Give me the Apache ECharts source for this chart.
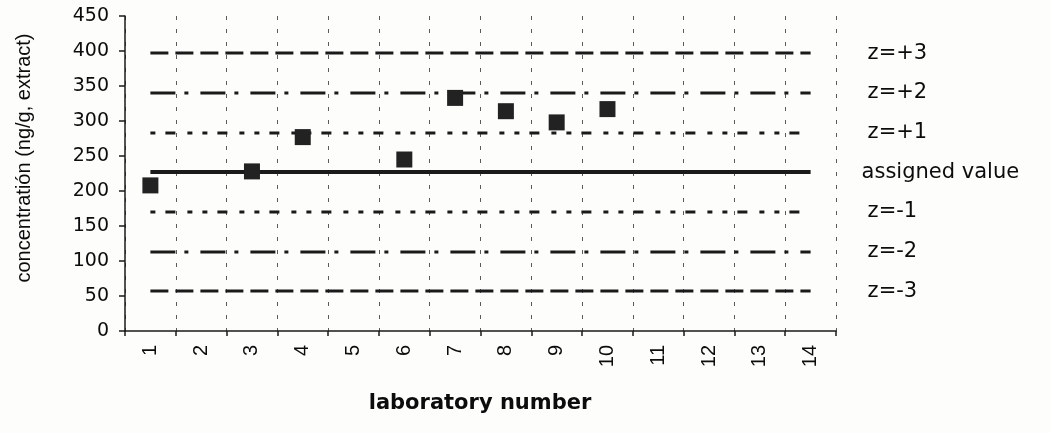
<!DOCTYPE html>
<html>
<head>
<meta charset="utf-8">
<script src="https://cdn.jsdelivr.net/npm/echarts@6/dist/echarts.min.js"></script>
<style>
  html, body { margin: 0; padding: 0; background: #fdfdfb; }
  #chart { width: 1050px; height: 433px; }
</style>
</head>
<body>
<div id="chart"></div>
<script>
// Laboratory numbers along the x axis
const labs = ['1', '2', '3', '4', '5', '6', '7', '8', '9', '10', '11', '12', '13', '14'];
// Reported concentration per laboratory (null = no result)
const concentrations = [208, null, 228, 277, null, 245, 333, 314, 298, 317, null, null, null, null];
// Reference levels: assigned value and z-score bands
const levelNames = ['z=+3', 'z=+2', 'z=+1', 'assigned value', 'z=-1', 'z=-2', 'z=-3'];
const levelValues = [397, 340, 283, 227, 170, 113, 57];
// y axis ticks
const yTicks = [0, 50, 100, 150, 200, 250, 300, 350, 400, 450];

const ink = '#1a1a1a';
const textInk = '#0c0c0c';
const dashStyles = {
  'z=+3': { type: [18, 7], width: 3 },
  'z=-3': { type: [18, 7], width: 3 },
  'z=+2': { type: [25, 9, 4, 12], width: 3 },
  'z=-2': { type: [25, 9, 4, 12], width: 3 },
  'z=+1': { type: [5, 10, 10, 12, 5, 10], width: 3 },
  'z=-1': { type: [5, 10, 10, 12, 5, 10], width: 3 },
  'assigned value': { type: 'solid', width: 4 }
};

const levelSeries = levelNames.map((name, i) => ({
  name: name,
  type: 'line',
  data: [[0, levelValues[i]], [labs.length - 1, levelValues[i]]],
  symbol: 'none',
  silent: true,
  z: 2,
  lineStyle: { color: ink, width: dashStyles[name].width, type: dashStyles[name].type, cap: 'butt' },
  endLabel: {
    show: true,
    formatter: name,
    distance: name === 'assigned value' ? 51 : 57,
    fontFamily: 'DejaVu Sans',
    fontSize: 21,
    color: textInk
  }
}));

const chart = echarts.init(document.getElementById('chart'), null, { renderer: 'canvas' });
chart.setOption({
  backgroundColor: '#fdfdfb',
  animation: false,
  grid: { left: 125, right: 214, top: 16, bottom: 102 },
  xAxis: {
    type: 'category',
    data: labs,
    boundaryGap: true,
    axisLine: { lineStyle: { color: ink, width: 1.5 } },
    axisTick: { show: true, length: 5, lineStyle: { color: ink, width: 1.5 } },
    axisLabel: {
      rotate: 90,
      margin: 14,
      fontFamily: 'Liberation Sans',
      fontSize: 20,
      color: textInk,
      interval: 0
    },
    splitLine: { show: true, interval: 0, lineStyle: { color: '#5a5a5a', width: 1, type: [4, 9] } }
  },
  yAxis: {
    type: 'value',
    min: yTicks[0],
    max: yTicks[yTicks.length - 1],
    interval: 50,
    axisLine: { show: true, lineStyle: { color: ink, width: 1.5 } },
    axisTick: { show: true, length: 6, lineStyle: { color: ink, width: 1.5 } },
    axisLabel: { margin: 16, fontFamily: 'DejaVu Sans', fontSize: 19, color: textInk },
    splitLine: { show: false }
  },
  graphic: [
    {
      type: 'text',
      x: 24,
      y: 158,
      rotation: Math.PI / 2,
      style: {
        text: 'concentratión (ng/g, extract)',
        fontFamily: 'Liberation Sans',
        fontSize: 20,
        fill: textInk,
        align: 'center',
        verticalAlign: 'middle'
      }
    },
    {
      type: 'text',
      x: 480,
      y: 404,
      style: {
        text: 'laboratory number',
        fontFamily: 'DejaVu Sans',
        fontWeight: 'bold',
        fontSize: 21,
        fill: textInk,
        align: 'center',
        verticalAlign: 'middle'
      }
    }
  ],
  series: levelSeries.concat([{
    name: 'laboratories',
    type: 'scatter',
    data: concentrations,
    symbol: 'rect',
    symbolSize: 16,
    z: 5,
    itemStyle: { color: '#222222', opacity: 1 }
  }])
});
</script>
</body>
</html>
